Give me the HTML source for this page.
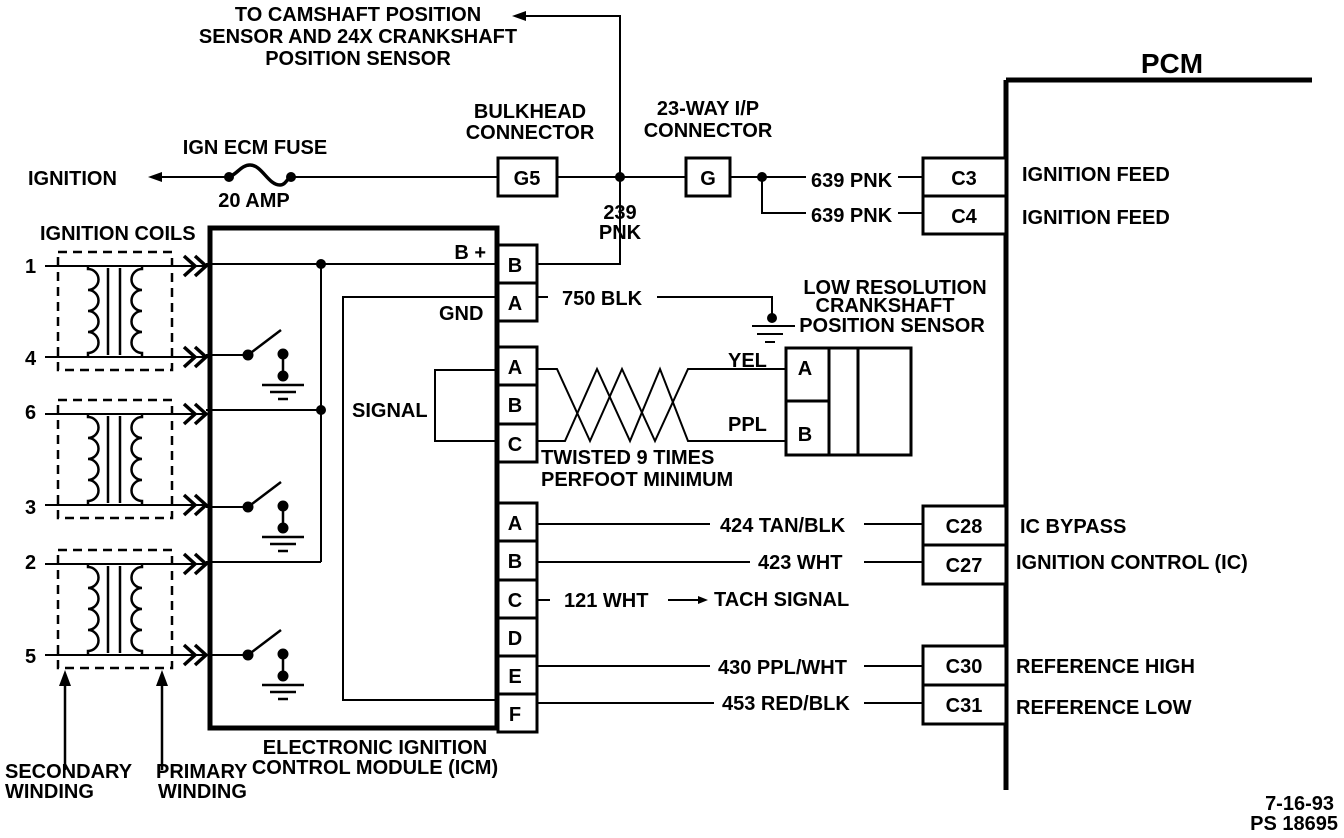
<!DOCTYPE html>
<html><head><meta charset="utf-8"><style>
html,body{margin:0;padding:0;background:#fff}
svg{display:block}
text{font-family:"Liberation Sans",sans-serif;font-weight:bold;font-size:20px;fill:#000}
</style></head><body>
<svg width="1344" height="838" viewBox="0 0 1344 838" xmlns="http://www.w3.org/2000/svg">
<defs>
<g id="coil" fill="none" stroke="#000">
<rect x="58" y="-14" width="114" height="118" stroke-width="2.5" stroke-dasharray="9,6"/>
<path d="M45,0H206M45,91H206" stroke-width="2"/>
<path d="M88,0v3a10.5,10.5 0 0 1 0,21a10.5,10.5 0 0 1 0,21a10.5,10.5 0 0 1 0,21a10.5,10.5 0 0 1 0,21v4" stroke-width="2.5"/>
<path d="M142,0v3a10.5,10.5 0 0 0 0,21a10.5,10.5 0 0 0 0,21a10.5,10.5 0 0 0 0,21a10.5,10.5 0 0 0 0,21v4" stroke-width="2.5"/>
<path d="M108,2v87M120,2v87" stroke-width="2.5"/>
<path d="M184,-10l11,10l-11,10M195,-10l11,10l-11,10M184,81l11,10l-11,10M195,81l11,10l-11,10" stroke-width="3.5"/>
</g>
<g id="sw" fill="#000" stroke="#000">
<circle cx="248" cy="0" r="5"/>
<path d="M248,0L281,-25" stroke-width="2.5" fill="none"/>
<circle cx="283" cy="-1" r="5"/><circle cx="283" cy="21" r="5"/>
<path d="M283,0v22M262,30h42M270,37h26M278,44h10" stroke-width="2.5" fill="none"/>
</g>
</defs>

<!-- top texts -->
<text x="358" y="21" text-anchor="middle">TO CAMSHAFT POSITION</text>
<text x="358" y="43" text-anchor="middle">SENSOR AND 24X CRANKSHAFT</text>
<text x="358" y="65" text-anchor="middle">POSITION SENSOR</text>
<path d="M520,16H620V177" fill="none" stroke="#000" stroke-width="2"/>
<path d="M512,16l14,-5v10z" fill="#000"/>

<text x="530" y="118" text-anchor="middle">BULKHEAD</text>
<text x="530" y="139" text-anchor="middle">CONNECTOR</text>
<text x="708" y="115" text-anchor="middle">23-WAY I/P</text>
<text x="708" y="137" text-anchor="middle">CONNECTOR</text>
<text x="255" y="154" text-anchor="middle">IGN ECM FUSE</text>
<text x="254" y="207" text-anchor="middle">20 AMP</text>
<text x="28" y="185">IGNITION</text>

<g fill="none" stroke="#000" stroke-width="2">
<path d="M155,177H226M291,177H497M557,177H685M730,177H922"/>
<path d="M226,177c10,0 14,-12 24,-12c12,0 18,20 30,20c6,0 8,-8 11,-8" stroke-width="3.5"/>
<path d="M762,177V213H922"/>
<path d="M620,177V264H537"/>
</g>
<path d="M148,177l14,-5v10z" fill="#000"/>
<circle cx="229" cy="177" r="5"/><circle cx="291" cy="177" r="5"/>
<circle cx="620" cy="177" r="5"/><circle cx="762" cy="177" r="5"/>
<rect x="498" y="158" width="59" height="38" fill="#fff" stroke="#000" stroke-width="3"/>
<text x="527" y="185" text-anchor="middle">G5</text>
<rect x="686" y="158" width="44" height="38" fill="#fff" stroke="#000" stroke-width="3"/>
<text x="708" y="185" text-anchor="middle">G</text>
<text x="620" y="219" text-anchor="middle">239</text>
<text x="620" y="239" text-anchor="middle">PNK</text>
<rect x="806" y="168" width="92" height="22" fill="#fff"/>
<text x="811" y="187">639 PNK</text>
<rect x="806" y="203" width="92" height="22" fill="#fff"/>
<text x="811" y="222">639 PNK</text>

<!-- PCM -->
<path d="M1006,80V790M1006,80H1312" stroke="#000" stroke-width="5" fill="none"/>
<text x="1172" y="73" text-anchor="middle" style="font-size:28px">PCM</text>
<g fill="#fff" stroke="#000" stroke-width="3">
<rect x="923" y="158" width="83" height="38"/><rect x="923" y="196" width="83" height="38"/>
<rect x="923" y="506" width="83" height="39"/><rect x="923" y="545" width="83" height="39"/>
<rect x="923" y="646" width="83" height="39"/><rect x="923" y="685" width="83" height="39"/>
</g>
<text x="964" y="185" text-anchor="middle">C3</text>
<text x="964" y="223" text-anchor="middle">C4</text>
<text x="964" y="533" text-anchor="middle">C28</text>
<text x="964" y="572" text-anchor="middle">C27</text>
<text x="964" y="673" text-anchor="middle">C30</text>
<text x="964" y="712" text-anchor="middle">C31</text>
<text x="1022" y="181">IGNITION FEED</text>
<text x="1022" y="224">IGNITION FEED</text>
<text x="1020" y="533">IC BYPASS</text>
<text x="1016" y="569">IGNITION CONTROL (IC)</text>
<text x="1016" y="673">REFERENCE HIGH</text>
<text x="1016" y="714">REFERENCE LOW</text>

<!-- ICM -->
<text x="40" y="240">IGNITION COILS</text>
<rect x="210" y="228" width="287" height="500" fill="none" stroke="#000" stroke-width="5"/>
<g fill="none" stroke="#000" stroke-width="2">
<path d="M206,264H497M321,264V562M206,410H321M206,562H321"/>
<path d="M497,297H343V700H497"/>
<path d="M497,370H435V441H497"/>
<path d="M206,355H248M206,507H248M206,655H248"/>
</g>
<circle cx="321" cy="264" r="5"/><circle cx="321" cy="410" r="5"/>
<text x="486" y="259" text-anchor="end">B +</text>
<text x="439" y="320">GND</text>
<text x="352" y="417">SIGNAL</text>
<use href="#coil" x="0" y="266"/>
<use href="#coil" x="0" y="414"/>
<use href="#coil" x="0" y="564"/>
<use href="#sw" x="0" y="355"/>
<use href="#sw" x="0" y="507"/>
<use href="#sw" x="0" y="655"/>
<text x="25" y="273">1</text><text x="25" y="365">4</text>
<text x="25" y="419">6</text><text x="25" y="514">3</text>
<text x="25" y="569">2</text><text x="25" y="663">5</text>

<!-- arrows to windings -->
<path d="M65,770V680M162,770V680" stroke="#000" stroke-width="2.5"/>
<path d="M65,670l-6,16h12zM162,670l-6,16h12z" fill="#000"/>
<text x="5" y="778">SECONDARY</text><text x="5" y="798">WINDING</text>
<text x="156" y="778">PRIMARY</text><text x="158" y="798">WINDING</text>
<text x="375" y="754" text-anchor="middle">ELECTRONIC IGNITION</text>
<text x="375" y="774" text-anchor="middle">CONTROL MODULE (ICM)</text>

<!-- ICM connectors -->
<g fill="#fff" stroke="#000" stroke-width="3">
<rect x="498" y="245" width="39" height="38"/><rect x="498" y="283" width="39" height="38"/>
<rect x="498" y="347" width="39" height="38"/><rect x="498" y="385" width="39" height="39"/><rect x="498" y="424" width="39" height="38"/>
<rect x="498" y="503" width="39" height="38"/><rect x="498" y="541" width="39" height="39"/><rect x="498" y="580" width="39" height="38"/>
<rect x="498" y="618" width="39" height="38"/><rect x="498" y="656" width="39" height="38"/><rect x="498" y="694" width="39" height="38"/>
</g>
<g text-anchor="middle">
<text x="515" y="272">B</text><text x="515" y="310">A</text>
<text x="515" y="374">A</text><text x="515" y="412">B</text><text x="515" y="451">C</text>
<text x="515" y="530">A</text><text x="515" y="568">B</text><text x="515" y="607">C</text>
<text x="515" y="645">D</text><text x="515" y="683">E</text><text x="515" y="721">F</text>
</g>

<!-- 750 BLK ground -->
<text x="562" y="305">750 BLK</text>
<path d="M537,297H548M657,297H772V316M752,326H795M757,334H783M765,342H775" fill="none" stroke="#000" stroke-width="2"/>
<circle cx="772" cy="318" r="5"/>
<text x="895" y="294" text-anchor="middle">LOW RESOLUTION</text>
<text x="885" y="312" text-anchor="middle">CRANKSHAFT</text>
<text x="892" y="332" text-anchor="middle">POSITION SENSOR</text>

<!-- twisted -->
<g fill="none" stroke="#000" stroke-width="2">
<path d="M537,369H557L590,441L622,369L655,441L688,369H785"/>
<path d="M537,441H565L597,369L630,441L660,369L688,441H785"/>
</g>
<rect x="786" y="348" width="125" height="107" fill="none" stroke="#000" stroke-width="3"/>
<path d="M829,348V455M858,348V455M786,401H829" stroke="#000" stroke-width="3"/>
<text x="805" y="375" text-anchor="middle">A</text>
<text x="805" y="441" text-anchor="middle">B</text>
<text x="728" y="367">YEL</text>
<text x="728" y="431">PPL</text>
<text x="541" y="464">TWISTED 9 TIMES</text>
<text x="541" y="486">PERFOOT MINIMUM</text>

<!-- ICM right wires -->
<g fill="none" stroke="#000" stroke-width="2">
<path d="M537,524H710M864,524H923"/>
<path d="M537,562H750M864,562H923"/>
<path d="M537,600H550M668,600H700"/>
<path d="M537,666H710M864,666H923"/>
<path d="M537,703H714M864,703H923"/>
</g>
<path d="M708,600l-10,-4v8z" fill="#000"/>
<text x="720" y="532">424 TAN/BLK</text>
<text x="758" y="569">423 WHT</text>
<text x="564" y="607">121 WHT</text>
<text x="714" y="606">TACH SIGNAL</text>
<text x="718" y="674">430 PPL/WHT</text>
<text x="722" y="710">453 RED/BLK</text>

<text x="1334" y="810" text-anchor="end">7-16-93</text>
<text x="1338" y="830" text-anchor="end">PS 18695</text>
</svg>
</body></html>
